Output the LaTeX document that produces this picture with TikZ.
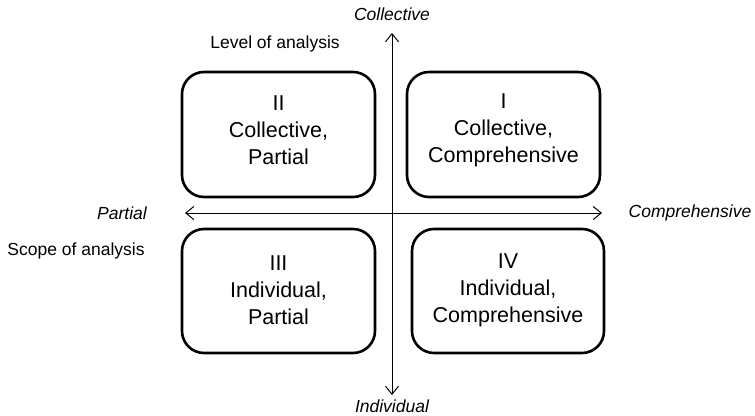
\documentclass[tikz,border=0pt]{standalone}
\usepackage{fontspec}
\setmainfont{Liberation Sans}
\usetikzlibrary{arrows.meta}
\begin{document}
\begin{tikzpicture}[x=1pt,y=-1pt,
  quadrant/.style={draw=black,line width=2.6pt,rounded corners=22pt},
  quadtext/.style={align=center,font=\fontsize{21.5}{27}\selectfont},
  axis/.style={line width=1pt,-{Straight Barb[length=8pt,width=13pt,line width=1pt]}},
  axislabel/.style={font=\fontsize{17.5}{20}\selectfont\itshape},
  caption/.style={font=\fontsize{17.5}{20}\selectfont}]
  \useasboundingbox (0,0) rectangle (755,415);

  % quadrant boxes
  \draw[quadrant] (407,72) rectangle (600,197);
  \draw[quadrant] (182,72) rectangle (375,197);
  \draw[quadrant] (182,229) rectangle (375,353);
  \draw[quadrant] (412,229) rectangle (604,353);

  \node[quadtext] (q1) at (503.5,130) {I\\Collective,\\Comprehensive};
  \node[quadtext] (q2) at (278.5,130) {II\\Collective,\\Partial};
  \node[quadtext] (q3) at (278.5,290) {III\\Individual,\\Partial};
  \node[quadtext] (q4) at (508,290) {IV\\Individual,\\Comprehensive};

  % axes
  \coordinate (xl) at (185,213);
  \coordinate (xr) at (602,213);
  \coordinate (yt) at (392,33);
  \coordinate (yb) at (392,395);
  \coordinate (o) at (392,213);
  \draw[axis] (o) -- (xl);
  \draw[axis] (o) -- (xr);
  \draw[axis] (o) -- (yt);
  \draw[axis] (o) -- (yb);

  % axis end labels
  \node[axislabel] (ltop) at (392,14) {Collective};
  \node[axislabel] (lbot) at (392,406) {Individual};
  \node[axislabel] (lleft) at (122,213) {Partial};
  \node[axislabel] (lright) at (690,213) {Comprehensive};

  % axis titles
  \node[caption] (lvl) at (275,44) {Level of analysis};
  \node[caption] (scope) at (76,251) {Scope of analysis};
\end{tikzpicture}
\end{document}
